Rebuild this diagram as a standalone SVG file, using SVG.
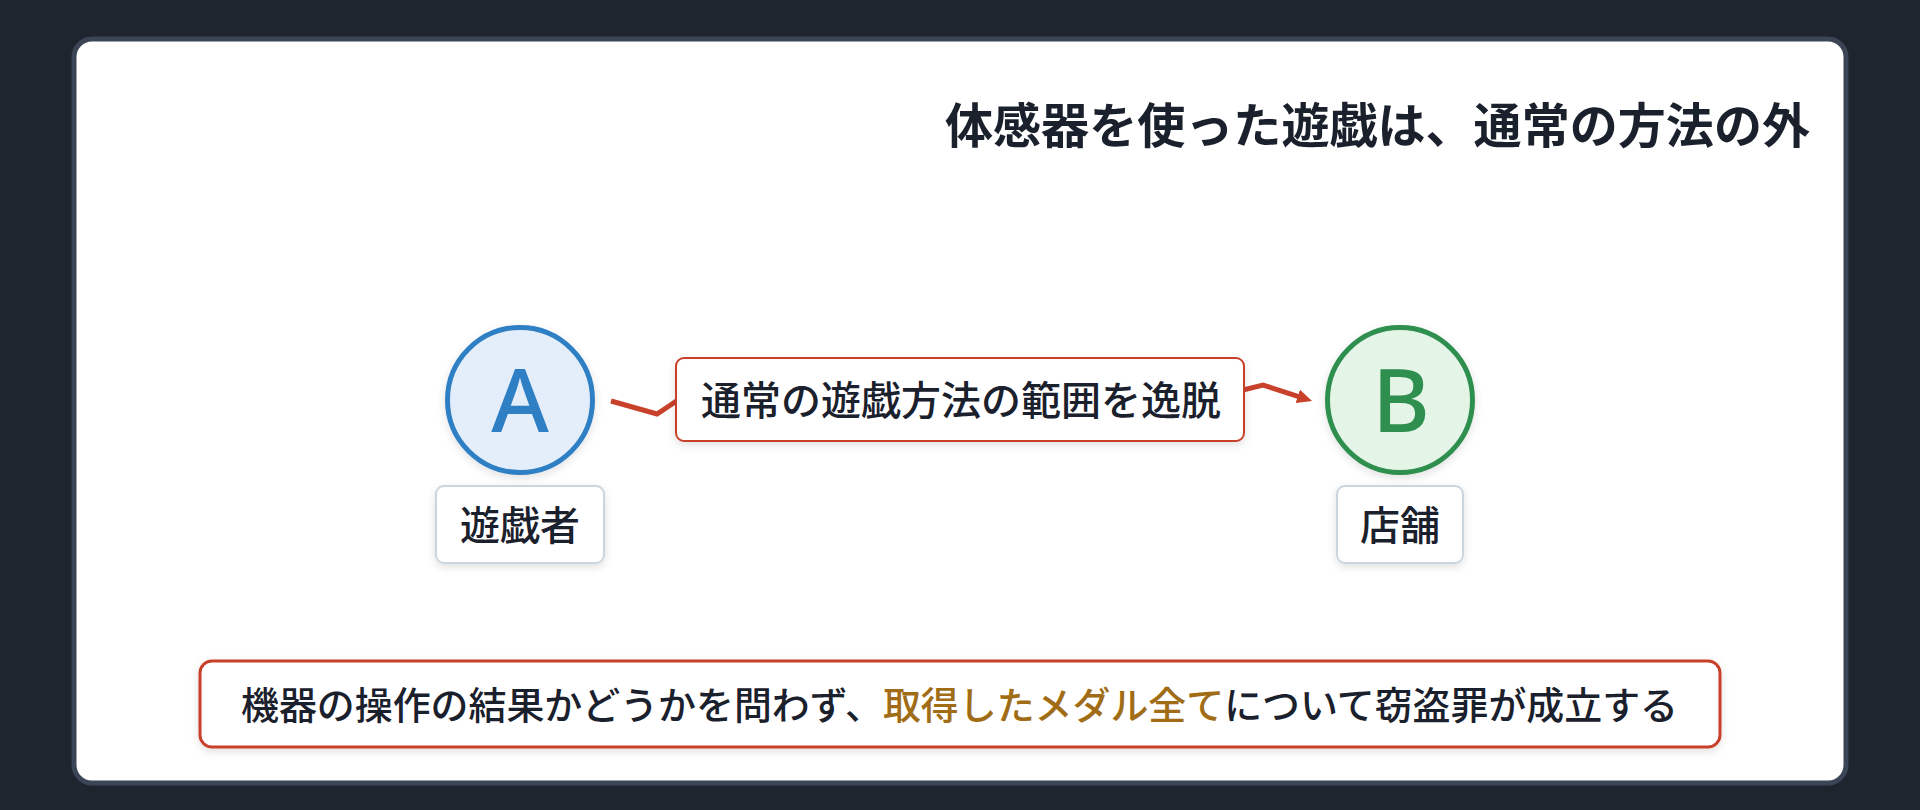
<svg xmlns="http://www.w3.org/2000/svg" width="1920" height="810" viewBox="0 0 1920 810">
  <defs>
    <style>
      .jp { font-family: "Noto Sans CJK JP", "Noto Sans CJK SC", sans-serif; }
      .title { font-size: 48px; font-weight: 600; fill: #1a202c; }
      .lbl { font-size: 40px; font-weight: 500; fill: #1a202c; }
      .note { font-size: 38px; font-weight: 500; fill: #1a202c; }
      .hl { fill: #a06d16; }
      .letter { font-family: "Noto Sans", "Liberation Sans", sans-serif; font-size: 88px; font-weight: 500; text-anchor: middle; }
      .namebox { fill: #ffffff; stroke: #cbd5e0; stroke-width: 2; }
      .redbox { fill: #ffffff; stroke: #c8412b; }
      .edge { fill: none; stroke: #c8412b; stroke-width: 5; stroke-linejoin: miter; }
    </style>
    <filter id="sh" x="-20%" y="-20%" width="140%" height="150%">
      <feDropShadow dx="0" dy="3" stdDeviation="4" flood-color="#000000" flood-opacity="0.12"/>
    </filter>
    <marker id="arr" markerUnits="userSpaceOnUse" viewBox="0 0 15 14" refX="1" refY="7" markerWidth="15" markerHeight="14" orient="auto">
      <path d="M0,0 L15,7 L0,14 z" fill="#c8412b"/>
    </marker>
  </defs>

  <rect x="0" y="0" width="1920" height="810" fill="#1e252f"/>
  <rect x="74" y="39" width="1772" height="744" rx="18" fill="#ffffff" stroke="#3c4555" stroke-width="5"/>

  <text class="jp title" x="945" y="143" textLength="865" lengthAdjust="spacingAndGlyphs">体感器を使った遊戯は、通常の方法の外</text>

  <g id="connectors">
    <path class="edge" d="M611,401 L657,414 L690,392 L1235,392 L1263,385 L1298.7,396.6" marker-end="url(#arr)"/>
  </g>

  <g id="nodeA">
    <circle cx="520" cy="400" r="72.5" fill="#e4eefa" stroke="#2f7fc4" stroke-width="5" filter="url(#sh)"/>
    <text class="letter" x="520" y="432" fill="#2f7fc4">A</text>
    <rect class="namebox" x="436" y="486" width="168" height="77" rx="8" filter="url(#sh)"/>
    <text class="jp lbl" x="520" y="540" text-anchor="middle">遊戯者</text>
  </g>

  <g id="nodeB">
    <circle cx="1400" cy="400" r="72.5" fill="#e4f5e8" stroke="#2e8f4f" stroke-width="5" filter="url(#sh)"/>
    <text class="letter" x="1401" y="432" fill="#2e8f4f">B</text>
    <rect class="namebox" x="1337" y="486" width="126" height="77" rx="8" filter="url(#sh)"/>
    <text class="jp lbl" x="1400" y="540" text-anchor="middle">店舗</text>
  </g>

  <g id="edgeLabel">
    <rect class="redbox" x="676" y="358" width="568" height="83" rx="8" stroke-width="2" filter="url(#sh)"/>
    <text class="jp lbl" x="701" y="415" textLength="520" lengthAdjust="spacingAndGlyphs">通常の遊戯方法の範囲を逸脱</text>
  </g>

  <g id="note">
    <rect class="redbox" x="200" y="661" width="1520" height="86" rx="12" stroke-width="3" filter="url(#sh)"/>
    <text class="jp note" x="241" y="719" textLength="1437" lengthAdjust="spacingAndGlyphs">機器の操作の結果かどうかを問わず、<tspan class="hl">取得したメダル全て</tspan>について窃盗罪が成立する</text>
  </g>
</svg>
